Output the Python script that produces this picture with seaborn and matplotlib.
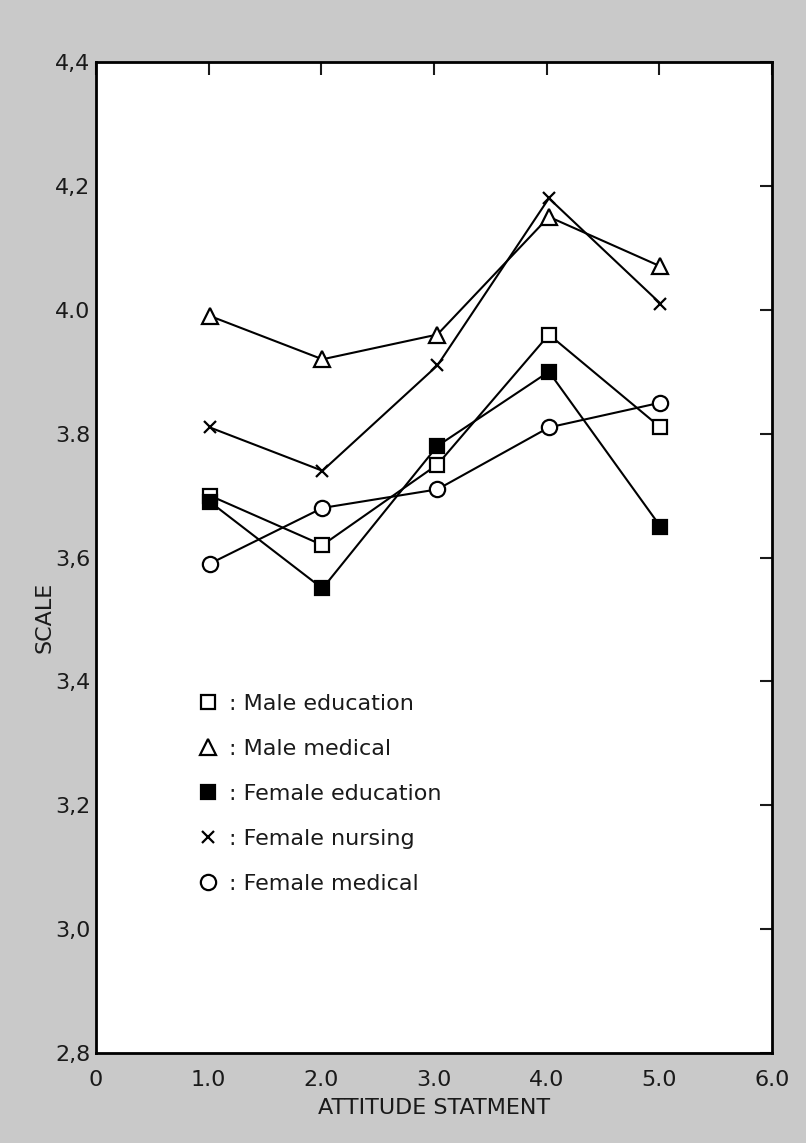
import matplotlib
matplotlib.use("Agg")
import matplotlib.pyplot as plt
import seaborn as sns
import pandas as pd
from matplotlib.lines import Line2D

sns.set_style("white")
plt.rcParams['font.family'] = ['DejaVu Sans']

# Data
statement = [1.01, 2.01, 3.03, 4.02, 5.01]
male_education = [3.70, 3.62, 3.75, 3.96, 3.81]
male_medical = [3.99, 3.92, 3.96, 4.15, 4.07]
female_education = [3.69, 3.55, 3.78, 3.90, 3.65]
female_nursing = [3.81, 3.74, 3.91, 4.18, 4.01]
female_medical = [3.59, 3.68, 3.71, 3.81, 3.85]

series_names = ["Male education", "Male medical", "Female education",
                "Female nursing", "Female medical"]
series_values = [male_education, male_medical, female_education,
                 female_nursing, female_medical]

x_ticks = [0, 1, 2, 3, 4, 5, 6]
x_tick_labels = ["0", "1.0", "2.0", "3.0", "4.0", "5.0", "6.0"]
y_ticks = [2.8, 3.0, 3.2, 3.4, 3.6, 3.8, 4.0, 4.2, 4.4]
y_tick_labels = ["2,8", "3,0", "3,2", "3,4", "3,6", "3.8", "4.0", "4,2", "4,4"]

styles = {
    "Male education": dict(marker="s", markerfacecolor="white", markersize=10.5),
    "Male medical": dict(marker="^", markerfacecolor="white", markersize=11.5),
    "Female education": dict(marker="s", markerfacecolor="black", markersize=10.5),
    "Female nursing": dict(marker="x", markerfacecolor="black", markersize=9),
    "Female medical": dict(marker="o", markerfacecolor="white", markersize=11),
}

rows = []
for name, vals in zip(series_names, series_values):
    for xv, yv in zip(statement, vals):
        rows.append({"statement": xv, "scale": yv, "group": name})
df = pd.DataFrame(rows)

fig = plt.figure(figsize=(8.06, 11.43), dpi=100)
fig.patch.set_facecolor("#c9c9c9")
ax = fig.add_axes([96 / 806, 1 - 1053 / 1143, 676 / 806, 991 / 1143])
ax.set_facecolor("white")

for name in series_names:
    sub = df[df["group"] == name]
    st = styles[name]
    sns.lineplot(data=sub, x="statement", y="scale", ax=ax, color="black",
                 linewidth=1.5, marker=st["marker"], markersize=st["markersize"],
                 markerfacecolor=st["markerfacecolor"], markeredgecolor="black",
                 markeredgewidth=1.6, legend=False, zorder=3)

ax.set_xlim(0, 6)
ax.set_ylim(2.8, 4.4)
ax.set_xticks(x_ticks)
ax.set_xticklabels(x_tick_labels)
ax.set_yticks(y_ticks)
ax.set_yticklabels(y_tick_labels)
ax.tick_params(axis="both", direction="in", length=9, width=1.5,
               labelsize=16, top=True, right=True, pad=4, colors="#1a1a1a")
ax.tick_params(axis="x", pad=12)
for sp in ax.spines.values():
    sp.set_linewidth(2)
    sp.set_color("black")
    sp.set_visible(True)

ax.set_xlabel("ATTITUDE STATMENT", fontsize=16, labelpad=6, color="#1a1a1a")
ax.set_ylabel("SCALE", fontsize=16, color="#1a1a1a")
ax.yaxis.set_label_coords(-0.062, 0.44)

handles = []
labels = []
for name in series_names:
    st = styles[name]
    handles.append(Line2D([], [], linestyle="none", marker=st["marker"],
                          markersize=st["markersize"],
                          markerfacecolor=st["markerfacecolor"],
                          markeredgecolor="black", markeredgewidth=1.6))
    labels.append(": " + name)
leg = ax.legend(handles, labels, loc="upper left", bbox_to_anchor=(0.149, 0.362),
                frameon=False, fontsize=16, handlelength=1.0, handletextpad=0.45,
                labelspacing=1.12, borderpad=0, borderaxespad=0)
for t in leg.get_texts():
    t.set_color("#1a1a1a")

fig.savefig("out.png", dpi=100, facecolor=fig.get_facecolor())
